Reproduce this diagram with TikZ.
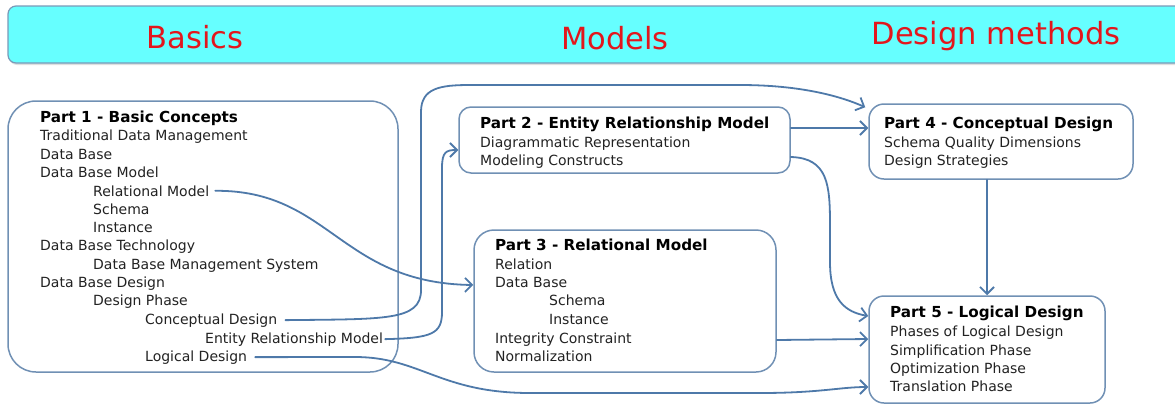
\documentclass[tikz,border=0pt]{standalone}
\usepackage{fontspec}
\setmainfont{DejaVu Sans}
\usetikzlibrary{arrows.meta,shadows}
\definecolor{bannerfill}{HTML}{66FFFF}
\definecolor{bannerline}{HTML}{7A99B8}
\definecolor{boxline}{HTML}{7090B4}
\definecolor{flow}{HTML}{4E79A9}
\definecolor{headred}{HTML}{E3161C}
\definecolor{bodytext}{HTML}{222222}

\begin{document}
\begin{tikzpicture}[x=1pt,y=-1pt,
  part/.style={draw=boxline, line width=1.5pt, fill=white, inner sep=0pt},
  head/.style={anchor=base, text=headred, inner sep=0pt, font=\fontsize{30.5}{34}\selectfont},
  ttl/.style={anchor=base west, inner sep=0pt, font=\fontsize{15.2}{18}\selectfont\bfseries},
  ln/.style={anchor=base west, inner sep=0pt, text=bodytext, font=\fontsize{14}{18}\selectfont},
  flowarrow/.style={draw=flow, line width=1.8pt, line cap=round,
    -{Straight Barb[length=7pt,width=14pt,line width=1.8pt]}}]

\useasboundingbox (0,0) rectangle (1175,405);

% header band
\node[draw=bannerline, fill=bannerfill, rounded corners=8pt, line width=1.2pt,
      minimum width=1180pt, minimum height=57pt, inner sep=0pt,
      drop shadow={shadow xshift=1pt, shadow yshift=-2pt, opacity=0.25}]
      (banner) at (598,34.5) {};
\node[head] (hbasics) at (195,48) {Basics};
\node[head] (hmodels) at (615,49) {Models};
\node[head] (hdesign) at (996,44) {Design methods};

% part boxes
\node[part, rounded corners=28pt, minimum width=390pt, minimum height=271pt] (p1) at (203,236.5) {};
\node[part, rounded corners=12pt, minimum width=331pt, minimum height=66pt]  (p2) at (624.5,140) {};
\node[part, rounded corners=20pt, minimum width=302pt, minimum height=142pt] (p3) at (625,301) {};
\node[part, rounded corners=15pt, minimum width=264pt, minimum height=75pt]  (p4) at (1001,141.5) {};
\node[part, rounded corners=15pt, minimum width=236pt, minimum height=107pt] (p5) at (987,349.5) {};

% Part 1
\node[ttl] (p1t) at (40,122) {Part 1 - Basic Concepts};
\node[ln] (p1a) at (40,140) {Traditional Data Management};
\node[ln] (p1b) at (40,159) {Data Base};
\node[ln] (p1c) at (40,177) {Data Base Model};
\node[ln] (rm)  at (93,196) {Relational Model};
\node[ln] (p1d) at (93,214) {Schema};
\node[ln] (p1e) at (93,232) {Instance};
\node[ln] (p1f) at (40,250) {Data Base Technology};
\node[ln] (p1g) at (93,269) {Data Base Management System};
\node[ln] (p1h) at (40,287) {Data Base Design};
\node[ln] (p1i) at (93,305) {Design Phase};
\node[ln] (cd)  at (145,324) {Conceptual Design};
\node[ln] (erm) at (205,343) {Entity Relationship Model};
\node[ln] (ld)  at (145,361) {Logical Design};

% Part 2
\node[ttl] (p2t) at (480,128.5) {Part 2 - Entity Relationship Model};
\node[ln] (p2a) at (480,147) {Diagrammatic Representation};
\node[ln] (p2b) at (480,165) {Modeling Constructs};

% Part 3
\node[ttl] (p3t) at (495,250.5) {Part 3 - Relational Model};
\node[ln] (p3a) at (495,269) {Relation};
\node[ln] (p3b) at (495,287) {Data Base};
\node[ln] (p3c) at (549,305) {Schema};
\node[ln] (p3d) at (549,324) {Instance};
\node[ln] (p3e) at (495,343) {Integrity Constraint};
\node[ln] (p3f) at (495,361) {Normalization};

% Part 4
\node[ttl] (p4t) at (884,128.5) {Part 4 - Conceptual Design};
\node[ln] (p4a) at (884,147) {Schema Quality Dimensions};
\node[ln] (p4b) at (884,165) {Design Strategies};

% Part 5
\node[ttl] (p5t) at (890,317.5) {Part 5 - Logical Design};
\node[ln] (p5a) at (890,336) {Phases of Logical Design};
\node[ln] (p5b) at (890,355) {Simplification Phase};
\node[ln] (p5c) at (890,373) {Optimization Phase};
\node[ln] (p5d) at (890,391) {Translation Phase};

% connectors
\draw[flowarrow] ([xshift=6pt]rm.east) .. controls (330,190) and (340,283) .. ([yshift=16pt]p3.west);
\draw[flowarrow] ([xshift=8pt]cd.east) .. controls (385,319) and (421,321) .. (421,290)
  -- (421,112) .. controls (421,88) and (440,85) .. (470,85)
  -- (740,85) .. controls (800,85) and (840,96) .. ([xshift=-3pt,yshift=-4pt]p4.north west);
\draw[flowarrow] ([xshift=2pt]erm.east) .. controls (432,338) and (442,334) .. (442,312)
  -- (442,168) .. controls (442,152) and (446,150) .. ([yshift=-10pt]p2.west);
\draw[flowarrow] ([xshift=8pt]ld.east) -- (355,357) .. controls (420,357) and (440,393) .. (530,393)
  -- (760,393) .. controls (820,393) and (840,387) .. ([yshift=-37.5pt]p5.west);
\draw[flowarrow] ([yshift=12pt]p2.east) -- ([yshift=13.5pt]p4.west);
\draw[flowarrow] ([yshift=-17pt]p2.east) .. controls (828,158) and (830,185) .. (830,225)
  -- (830,262) .. controls (830,300) and (845,312) .. ([yshift=33.5pt]p5.west);
\draw[flowarrow] ([yshift=-39pt]p3.east) -- ([yshift=10.5pt]p5.west);
\draw[flowarrow] ([xshift=-14pt]p4.south) -- (p5.north);

\end{tikzpicture}
\end{document}
